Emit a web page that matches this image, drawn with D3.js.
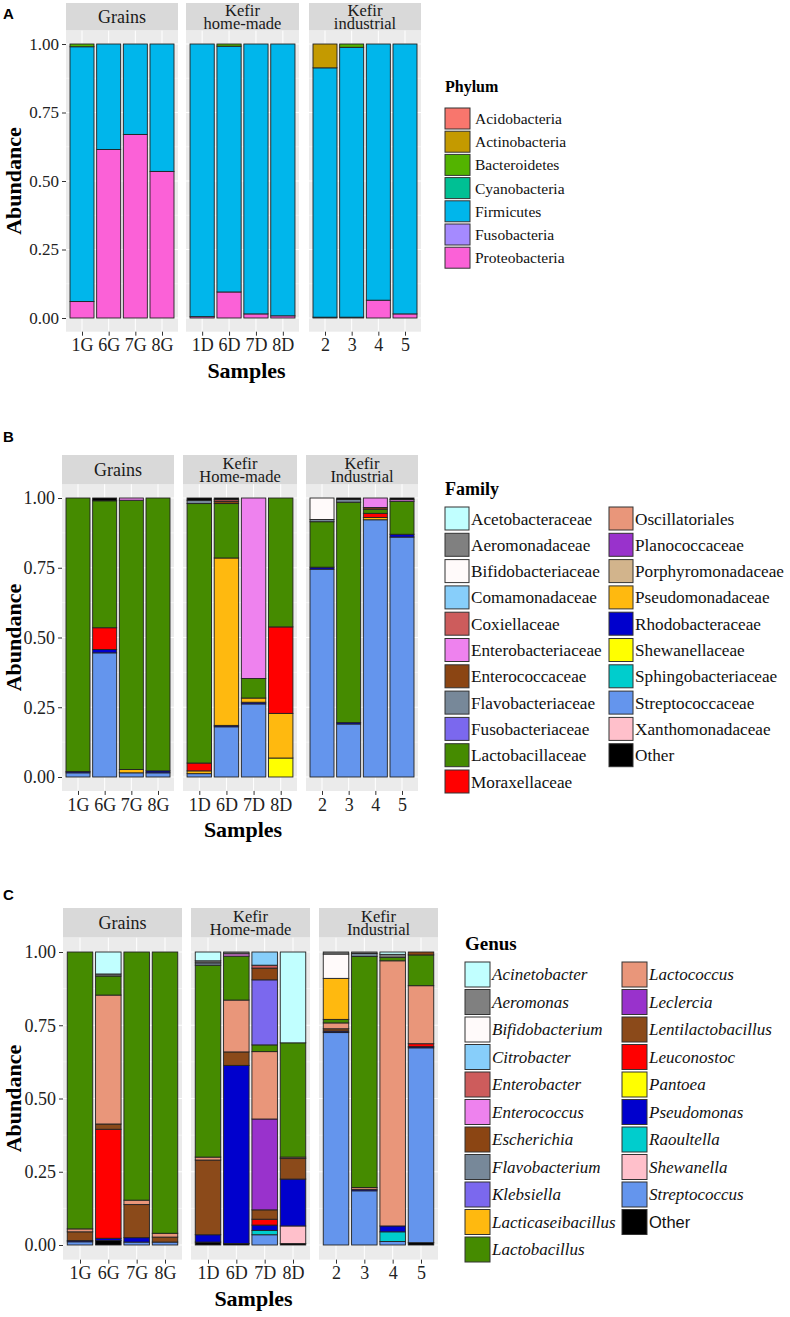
<!DOCTYPE html>
<html><head><meta charset="utf-8">
<script src="https://cdn.jsdelivr.net/npm/d3@7"></script>
<style>body{margin:0;background:#fff} svg{display:block}</style>
</head><body><svg id="c" width="790" height="1317"></svg>
<script>
// ---------- DATA ----------
const samples = ["1G","6G","7G","8G","1D","6D","7D","8D","2","3","4","5"];
const groupSamples = [["1G","6G","7G","8G"],["1D","6D","7D","8D"],["2","3","4","5"]];
const stripLabelsA = [["Grains"],["Kefir","home-made"],["Kefir","industrial"]];
const stripLabelsBC = [["Grains"],["Kefir","Home-made"],["Kefir","Industrial"]];
const yTicks = [0,0.25,0.5,0.75,1];

// Panel A: Phylum (order of samples as above)
const phylumNames = ["Acidobacteria","Actinobacteria","Bacteroidetes","Cyanobacteria","Firmicutes","Fusobacteria","Proteobacteria"];
const phylumColors = ["#F8766D","#C49A00","#53B400","#00C094","#00B6EB","#A58AFF","#FB61D7"];
const acidobacteria  = [0,0,0,0, 0,0,0,0, 0,0,0,0];
const actinobacteria = [0,0,0,0, 0,0,0,0, 0.087,0,0,0];
const bacteroidetes  = [0.01,0,0,0, 0,0.008,0,0, 0,0.012,0,0];
const cyanobacteria  = [0,0,0,0, 0,0,0,0, 0,0,0,0];
const firmicutes     = [0.93,0.385,0.33,0.465, 0.995,0.897,0.985,0.992, 0.91,0.985,0.935,0.985];
const fusobacteria   = [0,0,0,0, 0,0,0,0, 0,0,0,0];
const proteobacteria = [0.06,0.615,0.67,0.535, 0.005,0.095,0.015,0.008, 0.003,0.003,0.065,0.015];
const phylumValues = [acidobacteria,actinobacteria,bacteroidetes,cyanobacteria,firmicutes,fusobacteria,proteobacteria];

// Panel B: Family
const familyNames = ["Acetobacteraceae","Aeromonadaceae","Bifidobacteriaceae","Comamonadaceae","Coxiellaceae","Enterobacteriaceae","Enterococcaceae","Flavobacteriaceae","Fusobacteriaceae","Lactobacillaceae","Moraxellaceae","Oscillatoriales","Planococcaceae","Porphyromonadaceae","Pseudomonadaceae","Rhodobacteraceae","Shewanellaceae","Sphingobacteriaceae","Streptococcaceae","Xanthomonadaceae","Other"];
const familyColors = ["#C1FFFF","#808080","#FFFAFA","#87CEFA","#CD5C5C","#EE82EE","#8B4513","#778899","#7B68EE","#458B00","#FF0000","#E9967A","#9932CC","#D2B48C","#FFB90F","#0000CD","#FFFF00","#00CDCD","#6495ED","#FFC0CB","#000000"];
const acetobacteraceae   = [0,0,0,0, 0,0,0,0, 0,0,0,0];
const aeromonadaceae     = [0,0,0,0, 0,0,0,0, 0,0,0,0];
const bifidobacteriaceae = [0,0,0,0, 0,0,0,0, 0.077,0,0,0];
const comamonadaceae     = [0,0,0,0, 0,0,0,0, 0,0,0,0];
const coxiellaceae       = [0,0,0,0, 0,0.006,0,0, 0,0,0,0];
const enterobacteriaceae = [0,0,0.008,0, 0,0,0.647,0, 0,0,0.034,0.006];
const enterococcaceae    = [0,0,0,0, 0,0.008,0,0, 0,0,0.006,0];
const flavobacteriaceae  = [0,0,0,0, 0.012,0,0,0, 0.008,0.01,0,0];
const fusobacteriaceae   = [0,0,0,0, 0,0,0,0, 0,0,0,0];
const lactobacillaceae   = [0.98,0.455,0.965,0.978, 0.93,0.195,0.07,0.462, 0.163,0.79,0.015,0.118];
const moraxellaceae      = [0,0.078,0,0, 0.028,0,0,0.31, 0,0,0.015,0];
const oscillatoriales    = [0,0,0,0, 0,0,0,0, 0,0,0,0];
const planococcaceae     = [0,0,0,0, 0,0,0,0, 0,0,0,0];
const porphyromonadaceae = [0,0,0,0, 0,0,0,0, 0,0,0,0];
const pseudomonadaceae   = [0,0,0.012,0, 0.01,0.6,0.015,0.16, 0,0,0.008,0];
const rhodobacteraceae   = [0.005,0.012,0,0.007, 0,0.005,0.006,0, 0.007,0.005,0,0.01];
const shewanellaceae     = [0,0,0,0, 0,0,0,0.068, 0,0,0,0];
const sphingobacteriaceae= [0,0,0,0, 0,0,0,0, 0,0,0,0];
const streptococcaceae   = [0.015,0.445,0.015,0.015, 0.012,0.18,0.262,0, 0.745,0.19,0.922,0.86];
const xanthomonadaceae   = [0,0,0,0, 0,0,0,0, 0,0,0,0];
const familyOther        = [0,0.01,0,0, 0.008,0.006,0,0, 0,0.005,0,0.006];
const familyValues = [acetobacteraceae,aeromonadaceae,bifidobacteriaceae,comamonadaceae,coxiellaceae,enterobacteriaceae,enterococcaceae,flavobacteriaceae,fusobacteriaceae,lactobacillaceae,moraxellaceae,oscillatoriales,planococcaceae,porphyromonadaceae,pseudomonadaceae,rhodobacteraceae,shewanellaceae,sphingobacteriaceae,streptococcaceae,xanthomonadaceae,familyOther];

// Panel C: Genus
const genusNames = ["Acinetobacter","Aeromonas","Bifidobacterium","Citrobacter","Enterobacter","Enterococcus","Escherichia","Flavobacterium","Klebsiella","Lacticaseibacillus","Lactobacillus","Lactococcus","Leclercia","Lentilactobacillus","Leuconostoc","Pantoea","Pseudomonas","Raoultella","Shewanella","Streptococcus","Other"];
const genusColors = ["#C1FFFF","#808080","#FFFAFA","#87CEFA","#CD5C5C","#EE82EE","#8B4513","#778899","#7B68EE","#FFB90F","#458B00","#E9967A","#9932CC","#8B4A1A","#FF0000","#FFFF00","#0000CD","#00CDCD","#FFC0CB","#6495ED","#000000"];
const acinetobacter      = [0,0.075,0,0, 0.03,0,0,0.31, 0,0,0.008,0];
const aeromonas          = [0,0.007,0,0, 0.007,0.006,0,0, 0.007,0.005,0.01,0];
const bifidobacterium    = [0,0,0,0, 0,0,0,0, 0.083,0,0,0];
const citrobacter        = [0,0,0,0, 0,0,0.045,0, 0,0,0,0];
const enterobacter       = [0,0,0,0, 0,0,0.01,0, 0,0,0,0];
const enterococcus       = [0,0,0,0, 0,0.008,0,0, 0,0,0,0];
const escherichia        = [0,0,0,0, 0,0,0.04,0, 0,0,0,0.01];
const flavobacterium     = [0,0,0,0, 0.008,0,0,0, 0,0.01,0,0];
const klebsiella         = [0,0,0,0, 0,0,0.222,0, 0,0,0,0];
const lacticaseibacillus = [0,0,0,0, 0,0,0,0, 0.14,0,0,0];
const lactobacillus      = [0.945,0.065,0.847,0.96, 0.655,0.15,0.023,0.39, 0.012,0.789,0.012,0.105];
const lactococcus        = [0.01,0.44,0.015,0.013, 0.01,0.177,0.23,0.005, 0.02,0.006,0.905,0.198];
const leclercia          = [0,0,0,0, 0,0,0.31,0, 0,0,0,0];
const lentilactobacillus = [0.03,0.018,0.113,0.017, 0.255,0.046,0.032,0.07, 0.008,0,0,0];
const leuconostoc        = [0,0.372,0,0, 0,0,0.02,0, 0,0,0,0.01];
const pantoea            = [0,0,0,0, 0,0,0,0, 0,0,0,0];
const pseudomonas        = [0.004,0.008,0.015,0, 0.025,0.608,0.018,0.16, 0.005,0.005,0.02,0.004];
const raoultella         = [0,0,0,0, 0,0,0.015,0, 0,0,0.033,0];
const shewanella         = [0,0,0,0, 0,0,0,0.06, 0,0,0,0];
const streptococcus      = [0.011,0,0.01,0.01, 0,0,0.035,0, 0.725,0.185,0.012,0.665];
const genusOther         = [0,0.015,0,0, 0.01,0.005,0,0.005, 0,0,0,0.008];
const genusValues = [acinetobacter,aeromonas,bifidobacterium,citrobacter,enterobacter,enterococcus,escherichia,flavobacterium,klebsiella,lacticaseibacillus,lactobacillus,lactococcus,leclercia,lentilactobacillus,leuconostoc,pantoea,pseudomonas,raoultella,shewanella,streptococcus,genusOther];

// ---------- DRAW ----------
const svg = d3.select("#c");
const SERIF = "'Liberation Serif','Times New Roman',serif";
const SANS = "'Liberation Sans',Arial,sans-serif";

function drawFigure(cfg) {
  const g = svg.append("g");
  const y = d3.scaleLinear().domain([0,1]).range([cfg.y0, cfg.y1]);
  const pTop = y(1.05), pBot = y(-0.05);
  const color = d3.scaleOrdinal(cfg.names, cfg.colors);

  g.append("text").attr("x",3).attr("y",cfg.labelY).text(cfg.label)
    .attr("font-family",SANS).attr("font-weight","bold").attr("font-size",15);

  const rows = samples.map((s,i)=>{const r={sample:s}; cfg.names.forEach((k,j)=>r[k]=cfg.values[j][i]); return r;});
  const series = d3.stack().keys(cfg.stackOrder)(rows);

  groupSamples.forEach((grp, gi) => {
    const [xl, xr] = cfg.panelsX[gi];
    const x = d3.scalePoint().domain(grp).range([xl, xr]).padding(0.6);
    const bw = x.step() * 0.9;
    const pg = g.append("g");
    pg.append("rect").attr("x",xl).attr("y",pTop).attr("width",xr-xl).attr("height",pBot-pTop).attr("fill","#EBEBEB");
    // grid
    [0.125,0.375,0.625,0.875].forEach(v=>pg.append("line").attr("x1",xl).attr("x2",xr).attr("y1",y(v)).attr("y2",y(v)).attr("stroke","#fff").attr("stroke-width",0.5));
    yTicks.forEach(v=>pg.append("line").attr("x1",xl).attr("x2",xr).attr("y1",y(v)).attr("y2",y(v)).attr("stroke","#fff").attr("stroke-width",1));
    grp.forEach(s=>pg.append("line").attr("x1",x(s)).attr("x2",x(s)).attr("y1",pTop).attr("y2",pBot).attr("stroke","#fff").attr("stroke-width",1));
    // strip
    pg.append("rect").attr("x",xl).attr("y",cfg.stripTop).attr("width",xr-xl).attr("height",pTop-cfg.stripTop).attr("fill","#D9D9D9");
    const lines = cfg.strips[gi];
    const sc = (cfg.stripTop + pTop)/2;
    const st = pg.append("text").attr("text-anchor","middle").attr("font-family",SERIF)
      .attr("font-size",lines.length===1 ? 18 : 16.5).attr("fill","#1a1a1a");
    if (lines.length === 1) {
      st.attr("x",(xl+xr)/2).attr("y",sc+6).text(lines[0]);
    } else {
      st.append("tspan").attr("x",(xl+xr)/2).attr("y",sc-1).text(lines[0]);
      st.append("tspan").attr("x",(xl+xr)/2).attr("y",sc+12.5).text(lines[1]);
    }
    // bars
    const set = new Set(grp);
    series.forEach(ser=>{
      pg.selectAll(null).data(ser.filter(d=>set.has(d.data.sample) && d[1]-d[0]>0)).join("rect")
        .attr("x",d=>x(d.data.sample)-bw/2).attr("width",bw)
        .attr("y",d=>y(d[1])).attr("height",d=>y(d[0])-y(d[1]))
        .attr("fill",color(ser.key)).attr("stroke","#222").attr("stroke-width",0.9);
    });
    // x axis
    const xa = pg.append("g").attr("transform",`translate(0,${pBot})`)
      .call(d3.axisBottom(x).tickSize(4).tickPadding(3));
    xa.select(".domain").remove();
    xa.selectAll("line").attr("stroke","#333");
    xa.selectAll("text").attr("font-family",SERIF).attr("font-size",18).attr("fill","#222");
  });

  // y axis
  const ya = g.append("g").attr("transform",`translate(${cfg.panelsX[0][0]},0)`)
    .call(d3.axisLeft(y).tickValues(yTicks).tickFormat(d3.format(".2f")).tickSize(4).tickPadding(3));
  ya.select(".domain").remove();
  ya.selectAll("line").attr("stroke","#333");
  ya.selectAll("text").attr("font-family",SERIF).attr("font-size",cfg.yTickSize).attr("fill","#222");

  // axis titles
  g.append("text").attr("transform",`translate(21,${(cfg.y0+cfg.y1)/2}) rotate(-90)`).attr("text-anchor","middle")
    .attr("font-family",SERIF).attr("font-weight","bold").attr("font-size",22).text("Abundance");
  g.append("text").attr("x",(cfg.panelsX[0][0]+cfg.panelsX[2][1])/2+3).attr("y",pBot+46).attr("text-anchor","middle")
    .attr("font-family",SERIF).attr("font-weight","bold").attr("font-size",22).text("Samples");

  // legend
  const L = cfg.legend;
  g.append("text").attr("x",L.x).attr("y",L.titleY).attr("font-family",SERIF).attr("font-weight","bold")
    .attr("font-size",L.titleSize).text(L.title);
  cfg.names.forEach((n,i)=>{
    const col = Math.floor(i / L.perCol), row = i % L.perCol;
    const kx = L.colX[col], ky = L.top + row*L.step;
    g.append("rect").attr("x",kx).attr("y",ky).attr("width",L.kw).attr("height",L.kh)
      .attr("fill",color(n)).attr("stroke","#333").attr("stroke-width",1);
    const isOther = n==="Other";
    g.append("text").attr("x",kx+L.kw+L.gap).attr("y",ky+L.kh/2).attr("dy","0.35em")
      .attr("font-family", (L.italic && isOther) ? SANS : SERIF)
      .attr("font-style", (L.italic && !isOther) ? "italic" : "normal")
      .attr("font-size",(L.italic && isOther) ? L.size-0.5 : L.size).attr("fill","#111").text(n);
  });
}

drawFigure({
  label:"A", labelY:19, y0:318, y1:44, stripTop:3,
  panelsX:[[66,178],[186,299],[309,421]], strips:stripLabelsA, yTickSize:17,
  names:phylumNames, colors:phylumColors, values:phylumValues,
  stackOrder:phylumNames.slice().reverse(),
  legend:{title:"Phylum", x:445, titleY:92, titleSize:16, top:108, step:23.2, kw:25, kh:21, colX:[445], perCol:7, gap:5, size:15.5, italic:false}
});

const famStack = familyNames.filter(n=>n!=="Other").reverse().concat(["Other"]);
drawFigure({
  label:"B", labelY:442, y0:777, y1:498, stripTop:455,
  panelsX:[[62,174],[183,297],[306,418]], strips:stripLabelsBC, yTickSize:18,
  names:familyNames, colors:familyColors, values:familyValues,
  stackOrder:famStack,
  legend:{title:"Family", x:445, titleY:495, titleSize:18, top:507, step:26.3, kw:24, kh:23, colX:[445,609], perCol:11, gap:2, size:17.2, italic:false}
});

drawFigure({
  label:"C", labelY:900, y0:1245, y1:952, stripTop:908,
  panelsX:[[63,182],[191,310],[319,438]], strips:stripLabelsBC, yTickSize:18,
  names:genusNames, colors:genusColors, values:genusValues,
  stackOrder:genusNames.slice().reverse(),
  legend:{title:"Genus", x:465, titleY:950, titleSize:19, top:962, step:27.5, kw:25, kh:25, colX:[465,622], perCol:11, gap:2, size:17, italic:true}
});
</script></body></html>
